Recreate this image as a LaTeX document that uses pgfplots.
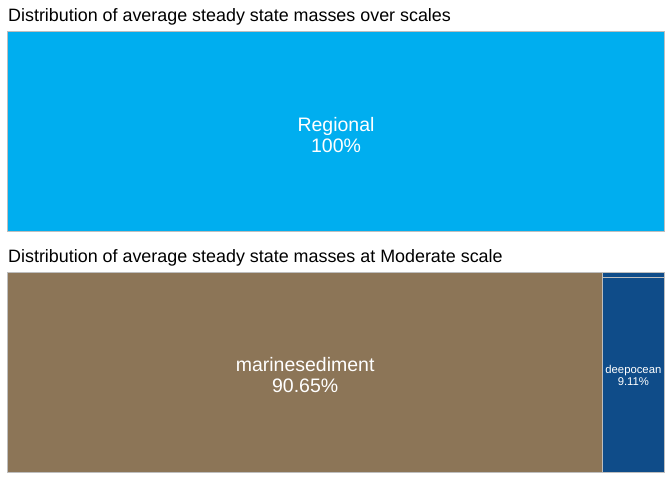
\documentclass[border=0pt]{standalone}
\usepackage{pgfplots}
\pgfplotsset{compat=1.18}
\usepackage{fontspec}
\setmainfont{Liberation Sans}
\definecolor{regional}{RGB}{0,174,239}
\definecolor{sediment}{RGB}{140,117,87}
\definecolor{deep}{RGB}{15,76,137}
\definecolor{edge}{RGB}{190,190,190}
\begin{document}
\begin{tikzpicture}
\path[fill=white] (0pt,0pt) rectangle (672pt,480pt);
\node[anchor=base west,inner sep=0pt,font=\fontsize{17.9}{21}\selectfont] at (8pt,458pt) {Distribution of average steady state masses over scales};
\node[anchor=base west,inner sep=0pt,font=\fontsize{17.9}{21}\selectfont] at (8pt,218pt) {Distribution of average steady state masses at Moderate scale};
\begin{axis}[at={(8pt,248pt)},anchor=south west,width=656pt,height=200pt,scale only axis,
  hide axis,xmin=0,xmax=100,ymin=0,ymax=100,clip=false]
\addplot[fill=regional,draw=edge,line width=1pt] coordinates {(0,0) (100,0) (100,100) (0,100)} -- cycle;
\node[align=center,text=white,font=\fontsize{19.5}{21.5}\selectfont] at (axis cs:50,48.5) {Regional\\100\%};
\end{axis}
\begin{axis}[at={(8pt,8pt)},anchor=south west,width=656pt,height=200pt,scale only axis,
  hide axis,xmin=0,xmax=100,ymin=0,ymax=100,clip=false]
% marinesediment 90.65%
\addplot[fill=sediment,draw=edge,line width=1pt] coordinates {(0,0) (90.65,0) (90.65,100) (0,100)} -- cycle;
% deepocean 9.11% of remaining column (9.35%)
\addplot[fill=deep,draw=edge,line width=1pt] coordinates {(90.65,0) (100,0) (100,97.43) (90.65,97.43)} -- cycle;
% remainder 0.24%
\addplot[fill=deep,draw=edge,line width=1pt] coordinates {(90.65,97.43) (100,97.43) (100,100) (90.65,100)} -- cycle;
\node[align=center,text=white,font=\fontsize{19.5}{21.5}\selectfont] at (axis cs:45.3,48.5) {marinesediment\\90.65\%};
\node[align=center,text=white,font=\fontsize{11.3}{12}\selectfont] at (axis cs:95.33,48.2) {deepocean\\9.11\%};
\end{axis}
\end{tikzpicture}
\end{document}
